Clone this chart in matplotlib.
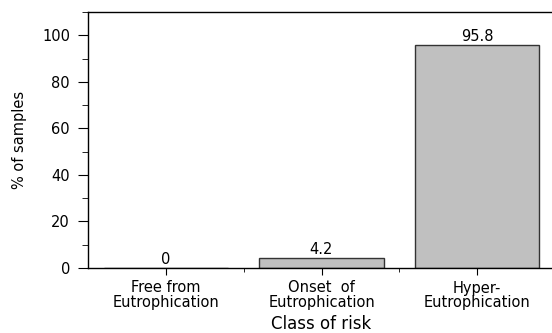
import numpy as np
import matplotlib.pyplot as plt
from matplotlib.ticker import MultipleLocator, FixedLocator

plt.rcParams['font.family'] = ['DejaVu Sans']

categories = ["Free from\nEutrophication", "Onset  of\nEutrophication", "Hyper-\nEutrophication"]
values = [0, 4.2, 95.8]
value_labels = ["0", "4.2", "95.8"]

fig = plt.figure(figsize=(5.52, 3.33), dpi=100)
ax = fig.add_axes([88/552, 65/333, 467/552, 256/333])

x = np.arange(len(categories))
ax.bar(x, values, width=0.8, color='#c0c0c0', edgecolor='#333333', linewidth=1.0)
for xi, v, lab in zip(x, values, value_labels):
    ax.text(xi, v + 0.4, lab, ha='center', va='bottom', fontsize=10.5)

ax.set_xlim(-0.5, 2.5)
ax.set_ylim(0, 110)
ax.set_xticks(x)
ax.set_xticklabels(categories, fontsize=10.5, linespacing=1.0)
ax.xaxis.set_minor_locator(FixedLocator([0.5, 1.5]))
ax.yaxis.set_major_locator(MultipleLocator(20))
ax.yaxis.set_minor_locator(MultipleLocator(10))
ax.tick_params(axis='y', which='major', length=7, labelsize=10.5, direction='out', pad=6)
ax.tick_params(axis='y', which='minor', length=4.3, direction='out')
ax.tick_params(axis='x', which='major', length=5, direction='out', pad=4)
ax.tick_params(axis='x', which='minor', length=3, direction='out')
for s in ax.spines.values():
    s.set_linewidth(1.0)

ax.set_xlabel("Class of risk", fontsize=12, labelpad=3.5)
ax.set_ylabel("% of samples", fontsize=10.5, labelpad=11)

fig.savefig("out.png", dpi=100)
